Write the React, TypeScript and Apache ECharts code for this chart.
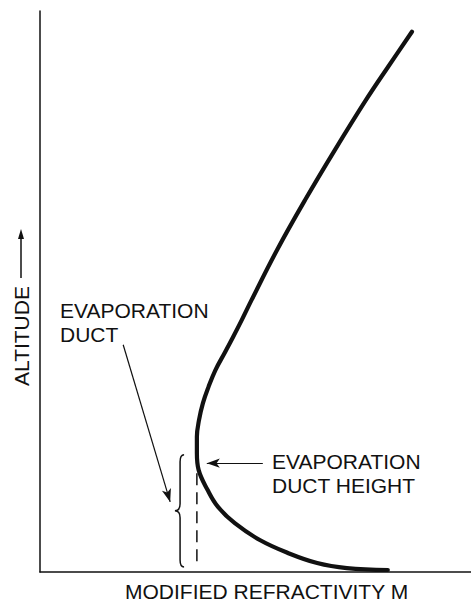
import React, { useEffect, useRef } from "react";
import * as echarts from "echarts";

// Modified refractivity M (x, 0..100) and altitude (y, 0..100)
const refractivity = [86.3, 80.9, 75.6, 68.4, 61.5, 55.0, 49.1, 46.8, 44.8, 42.8, 40.7, 39.1, 37.8, 36.9, 36.4, 36.4, 36.8, 38.9, 41.3, 45.2, 51.0, 57.5, 64.3, 71.2, 80.7];
const altitude = [96.3, 90.2, 84.1, 75.2, 66.3, 57.4, 48.5, 44.9, 41.9, 39.0, 36.0, 33.0, 30.1, 27.1, 24.1, 21.2, 18.2, 14.6, 11.6, 8.7, 5.7, 3.4, 1.6, 0.7, 0.36];

// Duct-height dashed marker
const ductHeightX = [36.4, 36.4];
const ductHeightY = [17.6, 1.0];

// Brace spanning the duct: [x, top, bottom, tipX]
const braceSpan = [32.5, 20.9, 0.9, 31.3];

// Annotation arrows: [fromX, fromY, toX, toY]
const ductArrow = [19.3, 40.5, 30.2, 12.5];
const heightArrow = [51.7, 19.4, 38.7, 19.4];

const xAxisTitle = "MODIFIED REFRACTIVITY M";
const yAxisTitle = "ALTITUDE";
const ductLabel = ["EVAPORATION", "DUCT"];
const heightLabel = ["EVAPORATION", "DUCT HEIGHT"];

const INK = "#111";
const FONT = "'Liberation Sans', Arial, Helvetica, sans-serif";

export default function App() {
  const ref = useRef<HTMLDivElement>(null);

  useEffect(() => {
    document.body.style.margin = "0";
    if (!ref.current) return;
    const chart = echarts.init(ref.current, null, { renderer: "svg" });

    const curve = refractivity.map((m, i) => [m, altitude[i]]);
    const dashed = ductHeightX.map((x, i) => [x, ductHeightY[i]]);

    const txt = (text: string, x: number, y: number, extra: any = {}) => ({
      type: "text",
      x,
      y,
      silent: true,
      style: {
        text,
        fill: INK,
        font: `21px ${FONT}`,
        textAlign: "left",
        textVerticalAlign: "middle",
        ...extra,
      },
    });

    chart.setOption({
      animation: false,
      backgroundColor: "#fff",
      grid: { left: 40, right: 0, top: 11, bottom: 29, containLabel: false },
      xAxis: {
        type: "value",
        min: 0,
        max: 100,
        axisLine: { show: true, onZero: false, lineStyle: { color: INK, width: 1.5 } },
        axisTick: { show: false },
        axisLabel: { show: false },
        splitLine: { show: false },
      },
      yAxis: {
        type: "value",
        min: 0,
        max: 100,
        axisLine: { show: true, onZero: false, lineStyle: { color: INK, width: 1.5 } },
        axisTick: { show: false },
        axisLabel: { show: false },
        splitLine: { show: false },
      },
      series: [
        {
          type: "line",
          data: curve,
          smooth: 0.4,
          symbol: "none",
          showSymbol: false,
          clip: false,
          silent: true,
          lineStyle: { color: INK, width: 4.2, cap: "round" },
          markLine: {
            silent: true,
            symbol: ["none", "arrow"],
            symbolSize: [7, 13],
            label: { show: false },
            lineStyle: { color: INK, width: 1.2, type: "solid" },
            emphasis: { disabled: true },
            data: [
              [{ coord: [ductArrow[0], ductArrow[1]] }, { coord: [ductArrow[2], ductArrow[3]] }],
              [{ coord: [heightArrow[0], heightArrow[1]] }, { coord: [heightArrow[2], heightArrow[3]] }],
            ],
          },
        },
        {
          type: "line",
          data: dashed,
          symbol: "none",
          showSymbol: false,
          silent: true,
          lineStyle: { color: INK, width: 1.5, type: [12, 7] },
        },
        {
          type: "custom",
          clip: false,
          silent: true,
          data: [braceSpan],
          renderItem: (_params: any, api: any) => {
            const x = api.value(0);
            const top = api.value(1);
            const bot = api.value(2);
            const tipX = api.value(3);
            const pT = api.coord([x, top]);
            const pB = api.coord([x, bot]);
            const pM = api.coord([tipX, (top + bot) / 2]);
            const px = pT[0];
            const yT = pT[1];
            const yB = pB[1];
            const ym = pM[1];
            const tx = pM[0];
            const h = 4;
            const r = 7;
            const d =
              `M ${px + h} ${yT} Q ${px} ${yT} ${px} ${yT + r} ` +
              `L ${px} ${ym - r} Q ${px} ${ym} ${tx} ${ym} ` +
              `Q ${px} ${ym} ${px} ${ym + r} ` +
              `L ${px} ${yB - r} Q ${px} ${yB} ${px + h} ${yB}`;
            return {
              type: "path",
              shape: { pathData: d },
              style: { stroke: INK, fill: "none", lineWidth: 1.5 },
            };
          },
        },
      ],
      graphic: [
        txt(ductLabel[0], 60, 310),
        txt(ductLabel[1], 60, 334),
        txt(heightLabel[0], 272, 461),
        txt(heightLabel[1], 272, 485),
        txt(xAxisTitle, 125, 591),
        {
          type: "text",
          x: 21,
          y: 386,
          rotation: Math.PI / 2,
          silent: true,
          style: {
            text: yAxisTitle,
            fill: INK,
            font: `21px ${FONT}`,
            textAlign: "left",
            textVerticalAlign: "middle",
          },
        },
        {
          type: "line",
          silent: true,
          shape: { x1: 21, y1: 278, x2: 21, y2: 236 },
          style: { stroke: INK, lineWidth: 1.5 },
        },
        {
          type: "polygon",
          silent: true,
          shape: { points: [[21, 229], [18, 239], [24, 239]] },
          style: { fill: INK },
        },
      ],
    });

    return () => chart.dispose();
  }, []);

  return (
    <div
      ref={ref}
      style={{ position: "fixed", left: 0, top: 0, width: 471, height: 601 }}
    />
  );
}
